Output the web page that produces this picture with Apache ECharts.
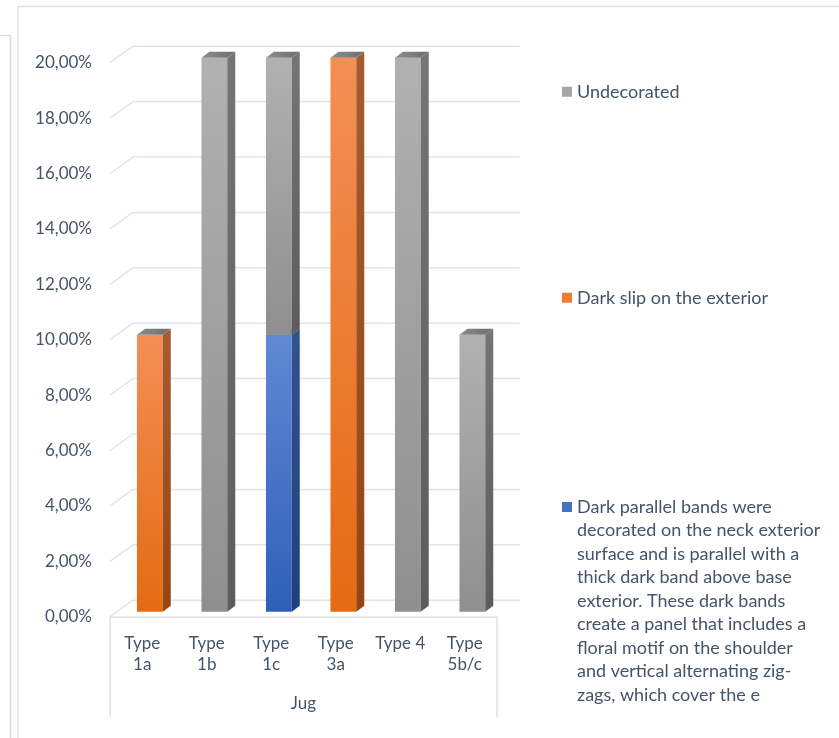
<!DOCTYPE html>
<html><head><meta charset="utf-8">
<script src="https://cdn.jsdelivr.net/npm/echarts@6/dist/echarts.min.js"></script>
<style>html,body{margin:0;padding:0;background:#fff}#c{width:839px;height:738px}</style>
</head><body><div id="c"></div>
<script>
// ---- data ----
const categories = ['Type 1a', 'Type 1b', 'Type 1c', 'Type 3a', 'Type 4', 'Type 5b/c'];
const groupLabel = 'Jug';
const nameBands = 'Dark parallel bands were decorated on the neck exterior surface and is parallel with a thick dark band above base exterior. These dark bands create a panel that includes a floral motif on the shoulder and vertical alternating zig-zags, which cover the e';
const nameSlip = 'Dark slip on the exterior';
const nameUndecorated = 'Undecorated';
const bandsLegendLines = ['Dark parallel bands were', 'decorated on the neck exterior', 'surface and is parallel with a', 'thick dark band above base', 'exterior. These dark bands', 'create a panel that includes a', 'floral motif on the shoulder', 'and vertical alternating zig-', 'zags, which cover the e'];
const bandsValues = [0, 0, 10, 0, 0, 0];
const slipValues = [10, 0, 0, 20, 0, 0];
const undecoratedValues = [0, 20, 10, 0, 20, 10];
const yTicks = [0, 2, 4, 6, 8, 10, 12, 14, 16, 18, 20];

// ---- style ----
const FONT = 'Lato, "Open Sans", sans-serif';
const TXT = '#44546a';
const GRIDC = '#e0e4ea';
const DX = 23, DY = -16.5; // back wall offset
const LH = 23.5;           // legend line height

function lin(a, b, horiz) {
  return new echarts.graphic.LinearGradient(0, 0, horiz ? 1 : 0, horiz ? 0 : 1, [{offset: 0, color: a}, {offset: 1, color: b}]);
}

function stackData(vals, base) {
  const out = [];
  vals.forEach((v, i) => { if (v > 0) out.push([i, base[i], base[i] + v]); base[i] += v; });
  return out;
}
const base = categories.map(() => 0);
const bandsData = stackData(bandsValues, base);
const slipData = stackData(slipValues, base);
const undecoratedData = stackData(undecoratedValues, base);

function barRenderer(frontA, frontB, sideA, sideB) {
  return function (params, api) {
    const i = api.value(0), b = api.value(1), t = api.value(2);
    const catW = api.size([1, 0])[0];
    const w = catW * 0.4;
    const pT = api.coord([i, t]), pB = api.coord([i, b]);
    const xl = pT[0] - w / 2 + catW * 0.118, xr = xl + w;
    const yt = pT[1] - 5, yb = pB[1] - 5;
    const dx = catW * 0.124, dy = -6;
    return {
      type: 'group',
      children: [
        {type: 'rect', shape: {x: xl, y: yt, width: w, height: yb - yt}, style: {fill: lin(frontA, frontB)}},
        {type: 'polygon', shape: {points: [[xr, yt], [xr + dx, yt + dy], [xr + dx, yb + dy], [xr, yb]]}, style: {fill: lin(sideA, sideB)}},
        {type: 'polygon', shape: {points: [[xl, yt], [xr, yt], [xr + dx, yt + dy], [xl + dx, yt + dy]]}, style: {fill: lin('#8d8d8d', '#6e6e6e', true)}}
      ]
    };
  };
}

function wallRender(params, api) {
  const v = api.value(1);
  const cs = params.coordSys;
  const y = api.coord([0, v])[1];
  const x0 = cs.x, x1 = cs.x + cs.width;
  const ls = {stroke: GRIDC, lineWidth: 1.5, fill: null};
  const ch = [
    {type: 'line', shape: {x1: x0, y1: y, x2: x0 + DX, y2: y + DY}, style: ls},
    {type: 'line', shape: {x1: x0 + DX, y1: y + DY, x2: x1 + DX, y2: y + DY}, style: ls}
  ];
  if (v === 0) {
    const bs = {stroke: '#dcdfe4', lineWidth: 1.5, fill: null};
    ch.push({type: 'line', shape: {x1: x0, y1: y + 0.5, x2: x1, y2: y + 0.5}, style: bs});
    ch.push({type: 'line', shape: {x1: x0, y1: y, x2: x0, y2: y + 100}, style: bs});
    ch.push({type: 'line', shape: {x1: x1, y1: y, x2: x1, y2: y + 100}, style: bs});
  }
  return {type: 'group', children: ch};
}

const legendCommon = {
  orient: 'vertical', left: 562, padding: 0, itemWidth: 10, itemHeight: 10, itemGap: 0,
  icon: 'rect', selectedMode: false,
  textStyle: {fontFamily: FONT, fontSize: 18, color: TXT, lineHeight: LH}
};
const nLines = bandsLegendLines.length;
const tallH = nLines * LH;
const sqTop = LH / 2 - 5;
const tallIcon = 'path://M0,0L0,0M0,' + sqTop + 'H10V' + (sqTop + 10) + 'H0ZM0,' + tallH + 'L0,' + tallH;

const chart = echarts.init(document.getElementById('c'), null, {renderer: 'canvas'});
chart.setOption({
  animation: false,
  backgroundColor: '#fff',
  textStyle: {fontFamily: FONT},
  grid: {left: 110, right: 342, top: 62.7, bottom: 121.3, containLabel: false},
  xAxis: {
    type: 'category', data: categories,
    axisLine: {show: false}, axisTick: {show: false}, splitLine: {show: false},
    axisLabel: {
      margin: 16, fontFamily: FONT, fontSize: 17, color: TXT, lineHeight: 21, interval: 0,
      formatter: v => (v.length > 6 ? v.replace(' ', '\n') : v)
    },
    name: groupLabel, nameLocation: 'middle', nameGap: 78,
    nameTextStyle: {fontFamily: FONT, fontSize: 17, color: TXT}
  },
  yAxis: {
    type: 'value', min: 0, max: 20, interval: 2,
    axisLine: {show: false}, axisTick: {show: false}, splitLine: {show: false},
    axisLabel: {margin: 18, fontFamily: FONT, fontSize: 17, color: TXT, formatter: v => v.toFixed(2).replace('.', ',') + '%'}
  },
  legend: [
    Object.assign({}, legendCommon, {top: 80, data: [nameUndecorated]}),
    Object.assign({}, legendCommon, {top: 286, data: [nameSlip]}),
    Object.assign({}, legendCommon, {
      top: 507 - LH / 2, data: [nameBands], icon: tallIcon, itemHeight: tallH, symbolKeepAspect: false,
      formatter: () => bandsLegendLines.join('\n')
    })
  ],
  graphic: [
    {type: 'line', shape: {x1: 18, y1: 6.5, x2: 839, y2: 6.5}, style: {stroke: '#dfe3e8', lineWidth: 1.5}, silent: true},
    {type: 'line', shape: {x1: 18, y1: 6, x2: 18, y2: 738}, style: {stroke: '#dfe3e8', lineWidth: 1.5}, silent: true},
    {type: 'line', shape: {x1: 10.5, y1: 35, x2: 10.5, y2: 738}, style: {stroke: '#d8dce3', lineWidth: 1.5}, silent: true},
    {type: 'line', shape: {x1: 0, y1: 35.5, x2: 10.5, y2: 35.5}, style: {stroke: '#d8dce3', lineWidth: 1.5}, silent: true}
  ],
  series: [
    {type: 'custom', name: 'wall', silent: true, z: 1, renderItem: wallRender, data: yTicks.map(v => [0, v]), encode: {x: 0, y: 1}},
    {type: 'custom', name: nameBands, z: 2, itemStyle: {color: '#4472c4'}, renderItem: barRenderer('#6189d4', '#2f5fba', '#34528f', '#203f7b'), data: bandsData, encode: {x: 0, y: 2}},
    {type: 'custom', name: nameSlip, z: 2, itemStyle: {color: '#ed7d31'}, renderItem: barRenderer('#f38f55', '#e46b12', '#a65c30', '#964510'), data: slipData, encode: {x: 0, y: 2}},
    {type: 'custom', name: nameUndecorated, z: 2, itemStyle: {color: '#a5a5a5'}, renderItem: barRenderer('#b1b1b1', '#8f8f8f', '#757575', '#5c5c5c'), data: undecoratedData, encode: {x: 0, y: 2}}
  ]
});
</script></body></html>
